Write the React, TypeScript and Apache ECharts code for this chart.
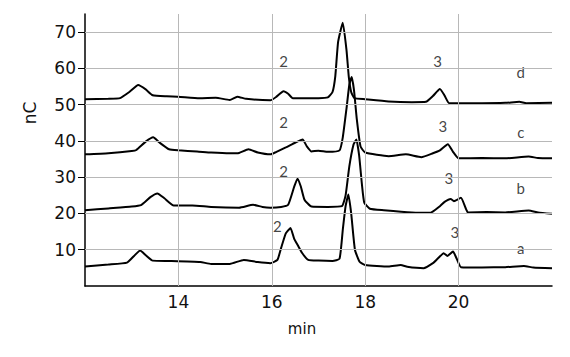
import React, { useEffect, useRef } from "react";
import * as echarts from "echarts";

// Retention times (min) and detector signal (nC) for each trace
const timeA = [12.0, 12.5, 12.9, 13.05, 13.18, 13.3, 13.45, 13.8, 14.47, 14.7, 15.1, 15.4, 15.7, 15.97, 16.12, 16.2, 16.3, 16.4, 16.48, 16.55, 16.65, 16.78, 17.0, 17.3, 17.45, 17.52, 17.58, 17.64, 17.7, 17.78, 17.88, 18.0, 18.5, 18.76, 18.9, 19.25, 19.45, 19.55, 19.68, 19.76, 19.88, 19.96, 20.05, 20.5, 21.0, 21.4, 21.6, 22.0];
const signalA = [5.35, 5.9, 6.45, 8.3, 9.8, 8.5, 7.0, 6.9, 6.6, 6.1, 6.1, 7.2, 6.6, 6.3, 7.2, 10.5, 14.5, 16.0, 13.0, 11.4, 9.1, 7.2, 7.0, 6.9, 7.5, 15.5, 22.0, 25.2, 20.0, 10.0, 6.7, 5.8, 5.35, 5.8, 5.3, 4.9, 6.3, 7.5, 9.05, 8.3, 9.5, 7.5, 5.2, 5.1, 5.2, 5.5, 5.1, 4.9];

const timeB = [12.0, 12.5, 13.0, 13.2, 13.4, 13.55, 13.7, 13.9, 14.3, 14.7, 15.3, 15.6, 15.8, 15.97, 16.2, 16.35, 16.48, 16.55, 16.62, 16.7, 16.85, 17.2, 17.5, 17.58, 17.66, 17.75, 17.81, 17.87, 17.93, 17.98, 18.1, 18.4, 19.0, 19.4, 19.6, 19.7, 19.83, 19.9, 20.05, 20.15, 20.2, 20.6, 21.0, 21.5, 21.7, 22.0];
const signalB = [20.9, 21.4, 21.9, 22.3, 24.5, 25.5, 24.2, 22.2, 22.2, 21.8, 21.6, 22.4, 21.8, 21.6, 21.8, 22.4, 27.4, 29.6, 27.5, 23.8, 21.9, 21.8, 22.0, 25.0, 33.0, 39.0, 40.4, 36.0, 28.0, 23.0, 21.3, 20.9, 20.3, 20.2, 22.0, 23.2, 24.0, 23.4, 24.3, 21.5, 20.3, 20.4, 20.3, 20.8, 20.3, 19.9];

const timeC = [12.0, 12.5, 13.0, 13.1, 13.3, 13.46, 13.6, 13.8, 14.0, 14.4, 14.7, 15.1, 15.3, 15.5, 15.7, 15.97, 16.1, 16.3, 16.5, 16.66, 16.75, 16.85, 17.0, 17.2, 17.45, 17.52, 17.6, 17.66, 17.71, 17.76, 17.82, 17.9, 18.0, 18.5, 18.87, 19.2, 19.45, 19.6, 19.77, 19.88, 20.0, 20.5, 21.0, 21.5, 21.7, 22.0];
const signalC = [36.3, 36.6, 37.2, 37.5, 39.8, 41.0, 39.5, 37.7, 37.4, 37.1, 36.8, 36.6, 36.7, 37.7, 36.8, 36.3, 37.0, 38.2, 39.5, 40.4, 38.5, 37.1, 37.3, 37.0, 37.4, 41.0, 49.0, 55.5, 57.6, 54.0, 46.0, 38.5, 36.8, 35.8, 36.3, 35.5, 36.6, 37.4, 39.1, 37.0, 35.2, 35.3, 35.2, 35.7, 35.3, 35.2];

const timeD = [12.0, 12.5, 12.75, 12.95, 13.14, 13.3, 13.45, 13.75, 14.0, 14.45, 14.8, 15.1, 15.26, 15.45, 15.97, 16.1, 16.25, 16.35, 16.45, 16.7, 17.0, 17.2, 17.3, 17.36, 17.42, 17.52, 17.6, 17.65, 17.7, 17.77, 18.0, 18.5, 19.0, 19.3, 19.45, 19.6, 19.7, 19.8, 20.5, 21.0, 21.3, 21.45, 22.0];
const signalD = [51.5, 51.6, 51.8, 53.5, 55.4, 54.2, 52.6, 52.3, 52.2, 51.8, 51.9, 51.3, 52.2, 51.6, 51.2, 52.2, 53.7, 53.0, 51.8, 51.8, 51.8, 52.0, 53.5, 57.9, 67.3, 72.6, 65.0, 57.5, 53.5, 51.8, 51.5, 50.9, 50.7, 50.8, 52.4, 54.3, 52.5, 50.4, 50.4, 50.5, 50.8, 50.4, 50.5];

// Peak / trace annotations: text, time (min), signal (nC)
const annotationText = ["2", "2", "2", "2", "3", "3", "3", "3", "d", "c", "b", "a"];
const annotationTime = [16.25, 16.25, 16.25, 16.12, 19.55, 19.66, 19.79, 19.92, 21.33, 21.33, 21.33, 21.33];
const annotationSignal = [62.0, 45.2, 31.6, 16.6, 62.0, 44.0, 29.9, 15.0, 59.0, 42.4, 27.1, 10.5];

const xTicks = [14, 16, 18, 20];
const yTicks = [10, 20, 30, 40, 50, 60, 70];

const zip = (t: number[], v: number[]) => t.map((x, i) => [x, v[i]]);

export default function App() {
  const ref = useRef<HTMLDivElement>(null);
  useEffect(() => {
    if (!ref.current) return;
    const chart = echarts.init(ref.current, null, { renderer: "svg" });
    const traceStyle = {
      type: "line" as const,
      showSymbol: false,
      symbol: "none",
      smooth: 0.15,
      lineStyle: { color: "#000", width: 2 },
      silent: true,
      z: 3,
    };
    chart.setOption({
      animation: false,
      backgroundColor: "#fff",
      grid: { left: 85, right: 18, top: 14, bottom: 71 },
      xAxis: {
        type: "value",
        min: 12,
        max: 22,
        interval: 2,
        axisLine: { show: true, onZero: false, lineStyle: { color: "#000", width: 1.5 } },
        axisTick: { show: false },
        axisLabel: {
          margin: 7,
          color: "#111",
          fontFamily: "DejaVu Sans",
          fontSize: 17,
          customValues: xTicks,
          formatter: (v: number) => (xTicks.includes(v) ? String(v) : ""),
        },
        splitLine: { show: false },
      },
      yAxis: {
        type: "value",
        min: 0,
        max: 75,
        interval: 10,
        axisLine: { show: true, lineStyle: { color: "#000", width: 1.5 } },
        axisTick: { show: true, length: 7, customValues: yTicks, lineStyle: { color: "#000" } },
        axisLabel: {
          margin: 9,
          color: "#111",
          fontFamily: "DejaVu Sans",
          fontSize: 17,
          customValues: yTicks,
          formatter: (v: number) => (yTicks.includes(v) ? String(v) : ""),
        },
        splitLine: { show: false },
      },
      graphic: [
        {
          type: "text",
          x: 30,
          y: 113,
          rotation: Math.PI / 2,
          style: { text: "nC", fontFamily: "DejaVu Sans", fontSize: 17, fill: "#111", align: "center", verticalAlign: "middle" },
        },
        {
          type: "text",
          x: 302,
          y: 329,
          style: { text: "min", fontFamily: "DejaVu Sans", fontSize: 15, fill: "#111", align: "center", verticalAlign: "middle" },
        },
      ],
      series: [
        {
          type: "line",
          data: [],
          silent: true,
          z: 1,
          markLine: {
            silent: true,
            symbol: "none",
            label: { show: false },
            lineStyle: { color: "#b8b8b8", width: 1, type: "solid" },
            data: [...yTicks.map((v) => ({ yAxis: v })), ...xTicks.map((v) => ({ xAxis: v }))],
          },
        },
        { ...traceStyle, name: "a", data: zip(timeA, signalA) },
        { ...traceStyle, name: "b", data: zip(timeB, signalB) },
        { ...traceStyle, name: "c", data: zip(timeC, signalC) },
        { ...traceStyle, name: "d", data: zip(timeD, signalD) },
        {
          type: "scatter",
          symbolSize: 0,
          silent: true,
          data: annotationText.map((t, i) => ({ value: [annotationTime[i], annotationSignal[i]], name: t })),
          label: {
            show: true,
            position: "inside",
            formatter: (p: any) => p.name,
            fontFamily: "Lato",
            fontSize: 15,
            color: "#111",
          },
        },
      ],
    });
    return () => chart.dispose();
  }, []);
  return <div ref={ref} style={{ position: "absolute", left: 0, top: 0, width: 570, height: 357 }} />;
}
